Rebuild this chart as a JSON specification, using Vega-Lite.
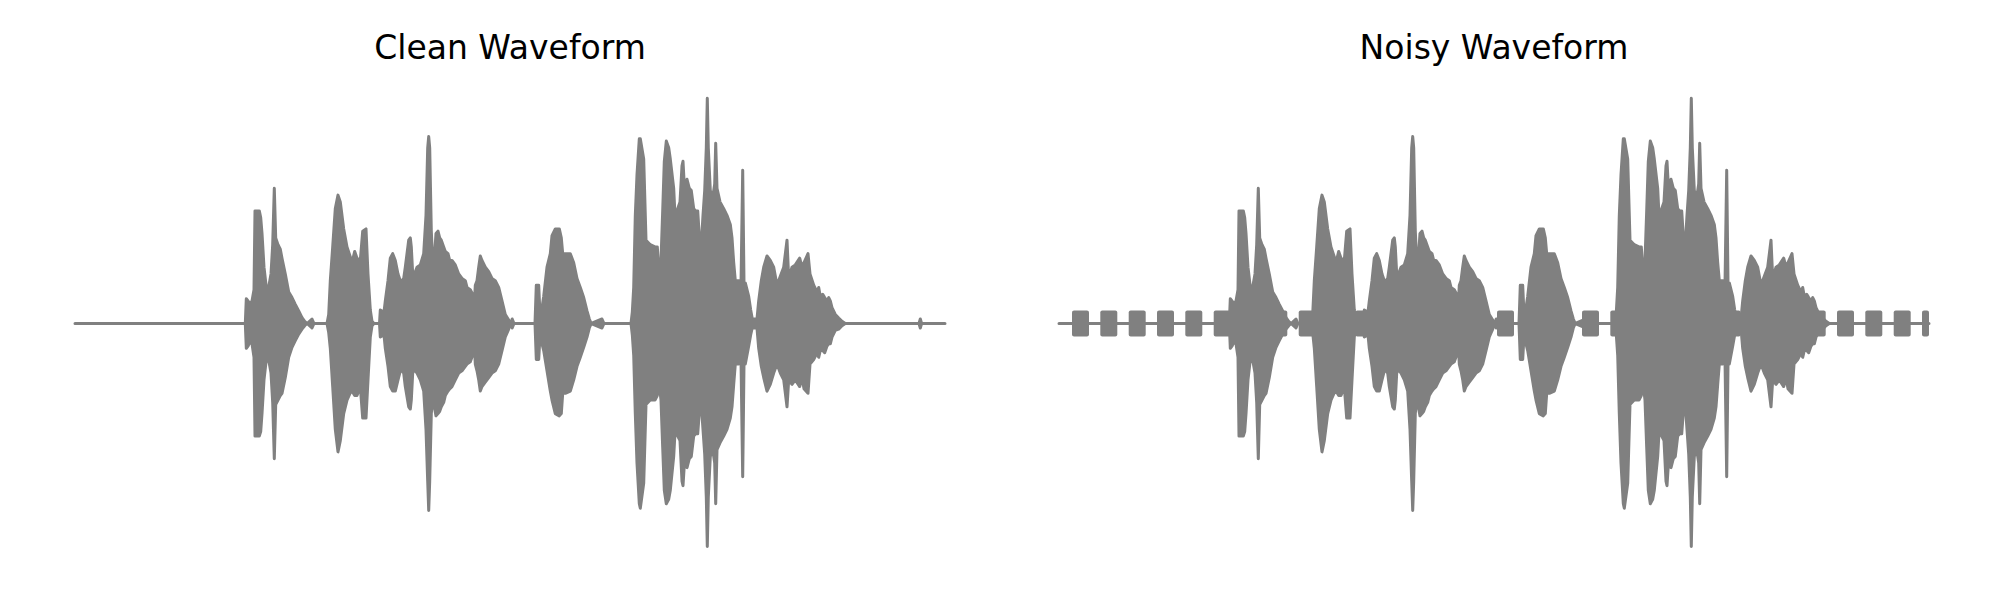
{
"$schema": "https://vega.github.io/schema/vega-lite/v6.json",
"padding": {"left": 73, "top": 32, "right": 0, "bottom": 0},
"spacing": 110,
"config": {"view": {"stroke": null}, "title": {"font": "DejaVu Sans", "fontSize": 33, "fontWeight": "normal", "color": "#000000", "anchor": "middle", "baseline": "alphabetic", "offset": 21.5}},
"datasets": {
"clean": [
{"t":0,"hi":0,"lo":0},{"t":1.703,"hi":0,"lo":0},{"t":1.713,"hi":0.11,"lo":-0.11},{"t":1.73,"hi":0.10,"lo":-0.10},{"t":1.75,"hi":0.09,"lo":-0.08},{"t":1.77,"hi":0.10,"lo":-0.09},{"t":1.79,"hi":0.15,"lo":-0.15},{"t":1.80,"hi":0.50,"lo":-0.50},{"t":1.843,"hi":0.50,"lo":-0.50},{"t":1.857,"hi":0.47,"lo":-0.48},{"t":1.87,"hi":0.40,"lo":-0.40},{"t":1.89,"hi":0.25,"lo":-0.25},{"t":1.913,"hi":0.16,"lo":-0.16},{"t":1.94,"hi":0.17,"lo":-0.17},{"t":1.96,"hi":0.22,"lo":-0.22},{"t":1.977,"hi":0.35,"lo":-0.35},{"t":1.993,"hi":0.60,"lo":-0.60},{"t":2.007,"hi":0.38,"lo":-0.36},{"t":2.03,"hi":0.35,"lo":-0.34},{"t":2.053,"hi":0.33,"lo":-0.32},{"t":2.07,"hi":0.29,"lo":-0.31},{"t":2.103,"hi":0.22,"lo":-0.24},{"t":2.137,"hi":0.14,"lo":-0.15},{"t":2.17,"hi":0.115,"lo":-0.106},{"t":2.203,"hi":0.085,"lo":-0.076},{"t":2.237,"hi":0.056,"lo":-0.047},{"t":2.27,"hi":0.026,"lo":-0.025},{"t":2.297,"hi":0.009,"lo":-0.01},{"t":2.32,"hi":0,"lo":0},{"t":2.37,"hi":0.02,"lo":-0.02},{"t":2.39,"hi":0,"lo":0},
{"t":2.52,"hi":0,"lo":0},{"t":2.537,"hi":0.04,"lo":-0.04},{"t":2.553,"hi":0.19,"lo":-0.11},{"t":2.577,"hi":0.34,"lo":-0.28},{"t":2.603,"hi":0.51,"lo":-0.47},{"t":2.63,"hi":0.57,"lo":-0.57},{"t":2.653,"hi":0.54,"lo":-0.52},{"t":2.687,"hi":0.42,"lo":-0.40},{"t":2.72,"hi":0.34,"lo":-0.34},{"t":2.75,"hi":0.30,"lo":-0.31},{"t":2.77,"hi":0.27,"lo":-0.30},{"t":2.797,"hi":0.32,"lo":-0.32},{"t":2.82,"hi":0.29,"lo":-0.32},{"t":2.853,"hi":0.28,"lo":-0.28},{"t":2.877,"hi":0.41,"lo":-0.42},{"t":2.91,"hi":0.42,"lo":-0.42},{"t":2.93,"hi":0.22,"lo":-0.25},{"t":2.953,"hi":0.06,"lo":-0.06},{"t":2.97,"hi":0.01,"lo":-0.01},{"t":2.99,"hi":0,"lo":0},
{"t":3.045,"hi":0,"lo":0},{"t":3.053,"hi":0.06,"lo":-0.06},{"t":3.09,"hi":0.05,"lo":-0.05},{"t":3.103,"hi":0.10,"lo":-0.11},{"t":3.13,"hi":0.19,"lo":-0.19},{"t":3.153,"hi":0.29,"lo":-0.28},{"t":3.177,"hi":0.31,"lo":-0.30},{"t":3.203,"hi":0.28,"lo":-0.30},{"t":3.23,"hi":0.22,"lo":-0.25},{"t":3.253,"hi":0.19,"lo":-0.21},{"t":3.27,"hi":0.19,"lo":-0.21},{"t":3.287,"hi":0.20,"lo":-0.22},{"t":3.303,"hi":0.25,"lo":-0.28},{"t":3.337,"hi":0.37,"lo":-0.37},{"t":3.353,"hi":0.38,"lo":-0.38},{"t":3.363,"hi":0.34,"lo":-0.34},{"t":3.377,"hi":0.22,"lo":-0.22},{"t":3.387,"hi":0.19,"lo":-0.21},{"t":3.403,"hi":0.23,"lo":-0.21},{"t":3.42,"hi":0.25,"lo":-0.22},{"t":3.453,"hi":0.26,"lo":-0.25},{"t":3.487,"hi":0.31,"lo":-0.30},{"t":3.51,"hi":0.48,"lo":-0.47},{"t":3.527,"hi":0.78,"lo":-0.70},{"t":3.537,"hi":0.83,"lo":-0.83},{"t":3.547,"hi":0.78,"lo":-0.70},{"t":3.563,"hi":0.41,"lo":-0.40},{"t":3.577,"hi":0.28,"lo":-0.33},{"t":3.597,"hi":0.31,"lo":-0.38},{"t":3.61,"hi":0.40,"lo":-0.41},{"t":3.63,"hi":0.41,"lo":-0.40},{"t":3.647,"hi":0.38,"lo":-0.39},{"t":3.663,"hi":0.37,"lo":-0.37},{"t":3.687,"hi":0.34,"lo":-0.35},{"t":3.703,"hi":0.32,"lo":-0.32},{"t":3.73,"hi":0.31,"lo":-0.30},{"t":3.747,"hi":0.28,"lo":-0.29},{"t":3.77,"hi":0.28,"lo":-0.28},{"t":3.803,"hi":0.26,"lo":-0.25},{"t":3.837,"hi":0.22,"lo":-0.22},{"t":3.87,"hi":0.20,"lo":-0.21},{"t":3.903,"hi":0.19,"lo":-0.19},{"t":3.92,"hi":0.16,"lo":-0.18},{"t":3.953,"hi":0.15,"lo":-0.17},{"t":3.977,"hi":0.13,"lo":-0.14},{"t":3.99,"hi":0.06,"lo":-0.06},{"t":4.003,"hi":0.17,"lo":-0.18},{"t":4.02,"hi":0.19,"lo":-0.21},{"t":4.037,"hi":0.25,"lo":-0.25},{"t":4.053,"hi":0.30,"lo":-0.30},{"t":4.07,"hi":0.28,"lo":-0.28},{"t":4.103,"hi":0.25,"lo":-0.26},{"t":4.137,"hi":0.23,"lo":-0.24},{"t":4.17,"hi":0.20,"lo":-0.22},{"t":4.203,"hi":0.19,"lo":-0.21},{"t":4.237,"hi":0.16,"lo":-0.18},{"t":4.27,"hi":0.10,"lo":-0.12},{"t":4.303,"hi":0.04,"lo":-0.06},{"t":4.337,"hi":0.015,"lo":-0.025},{"t":4.355,"hi":0,"lo":0},{"t":4.372,"hi":0.02,"lo":-0.02},{"t":4.39,"hi":0,"lo":0},
{"t":4.60,"hi":0,"lo":0},{"t":4.613,"hi":0.17,"lo":-0.16},{"t":4.637,"hi":0.17,"lo":-0.16},{"t":4.647,"hi":0.07,"lo":-0.08},{"t":4.67,"hi":0.07,"lo":-0.09},{"t":4.687,"hi":0.12,"lo":-0.12},{"t":4.72,"hi":0.25,"lo":-0.21},{"t":4.753,"hi":0.31,"lo":-0.30},{"t":4.77,"hi":0.39,"lo":-0.34},{"t":4.803,"hi":0.42,"lo":-0.40},{"t":4.843,"hi":0.42,"lo":-0.41},{"t":4.863,"hi":0.38,"lo":-0.40},{"t":4.877,"hi":0.31,"lo":-0.31},{"t":4.903,"hi":0.31,"lo":-0.31},{"t":4.953,"hi":0.31,"lo":-0.30},{"t":4.987,"hi":0.27,"lo":-0.25},{"t":5.02,"hi":0.20,"lo":-0.19},{"t":5.053,"hi":0.16,"lo":-0.15},{"t":5.087,"hi":0.115,"lo":-0.106},{"t":5.12,"hi":0.056,"lo":-0.06},{"t":5.143,"hi":0.02,"lo":-0.02},{"t":5.163,"hi":0,"lo":0},{"t":5.27,"hi":0.02,"lo":-0.02},{"t":5.29,"hi":0,"lo":0},
{"t":5.56,"hi":0,"lo":0},{"t":5.573,"hi":0.05,"lo":-0.05},{"t":5.587,"hi":0.16,"lo":-0.14},{"t":5.603,"hi":0.48,"lo":-0.40},{"t":5.62,"hi":0.66,"lo":-0.62},{"t":5.643,"hi":0.82,"lo":-0.80},{"t":5.653,"hi":0.82,"lo":-0.82},{"t":5.687,"hi":0.73,"lo":-0.71},{"t":5.71,"hi":0.37,"lo":-0.36},{"t":5.753,"hi":0.35,"lo":-0.34},{"t":5.80,"hi":0.34,"lo":-0.34},{"t":5.823,"hi":0.34,"lo":-0.32},{"t":5.837,"hi":0.25,"lo":-0.25},{"t":5.86,"hi":0.28,"lo":-0.34},{"t":5.877,"hi":0.50,"lo":-0.55},{"t":5.893,"hi":0.72,"lo":-0.74},{"t":5.913,"hi":0.81,"lo":-0.80},{"t":5.937,"hi":0.78,"lo":-0.78},{"t":5.953,"hi":0.73,"lo":-0.74},{"t":5.987,"hi":0.60,"lo":-0.59},{"t":6.003,"hi":0.45,"lo":-0.46},{"t":6.027,"hi":0.51,"lo":-0.50},{"t":6.05,"hi":0.54,"lo":-0.52},{"t":6.07,"hi":0.70,"lo":-0.70},{"t":6.08,"hi":0.72,"lo":-0.72},{"t":6.097,"hi":0.58,"lo":-0.60},{"t":6.12,"hi":0.64,"lo":-0.64},{"t":6.143,"hi":0.60,"lo":-0.60},{"t":6.163,"hi":0.59,"lo":-0.59},{"t":6.187,"hi":0.51,"lo":-0.50},{"t":6.207,"hi":0.50,"lo":-0.49},{"t":6.227,"hi":0.50,"lo":-0.49},{"t":6.247,"hi":0.36,"lo":-0.37},{"t":6.263,"hi":0.35,"lo":-0.36},{"t":6.28,"hi":0.48,"lo":-0.47},{"t":6.297,"hi":0.59,"lo":-0.58},{"t":6.313,"hi":0.78,"lo":-0.77},{"t":6.323,"hi":1.0,"lo":-0.99},{"t":6.333,"hi":0.78,"lo":-0.77},{"t":6.353,"hi":0.59,"lo":-0.59},{"t":6.377,"hi":0.56,"lo":-0.56},{"t":6.397,"hi":0.62,"lo":-0.62},{"t":6.407,"hi":0.80,"lo":-0.80},{"t":6.42,"hi":0.60,"lo":-0.56},{"t":6.45,"hi":0.54,"lo":-0.53},{"t":6.487,"hi":0.51,"lo":-0.50},{"t":6.52,"hi":0.48,"lo":-0.47},{"t":6.553,"hi":0.44,"lo":-0.42},{"t":6.57,"hi":0.38,"lo":-0.37},{"t":6.587,"hi":0.27,"lo":-0.27},{"t":6.603,"hi":0.19,"lo":-0.18},{"t":6.637,"hi":0.19,"lo":-0.18},{"t":6.66,"hi":0.17,"lo":-0.16},{"t":6.677,"hi":0.68,"lo":-0.68},{"t":6.69,"hi":0.18,"lo":-0.18},{"t":6.703,"hi":0.18,"lo":-0.18},{"t":6.737,"hi":0.12,"lo":-0.10},{"t":6.757,"hi":0.06,"lo":-0.05},{"t":6.777,"hi":0.01,"lo":-0.01},{"t":6.79,"hi":0.02,"lo":-0.02},{"t":6.82,"hi":0.02,"lo":-0.02},
{"t":6.837,"hi":0.10,"lo":-0.11},{"t":6.863,"hi":0.19,"lo":-0.19},{"t":6.887,"hi":0.25,"lo":-0.24},{"t":6.92,"hi":0.30,"lo":-0.30},{"t":6.953,"hi":0.28,"lo":-0.27},{"t":6.987,"hi":0.25,"lo":-0.22},{"t":7.02,"hi":0.17,"lo":-0.18},{"t":7.053,"hi":0.21,"lo":-0.22},{"t":7.087,"hi":0.25,"lo":-0.25},{"t":7.12,"hi":0.37,"lo":-0.37},{"t":7.137,"hi":0.20,"lo":-0.25},{"t":7.17,"hi":0.25,"lo":-0.27},{"t":7.203,"hi":0.26,"lo":-0.25},{"t":7.247,"hi":0.29,"lo":-0.28},{"t":7.27,"hi":0.25,"lo":-0.24},{"t":7.29,"hi":0.27,"lo":-0.29},{"t":7.33,"hi":0.31,"lo":-0.31},{"t":7.35,"hi":0.22,"lo":-0.18},{"t":7.387,"hi":0.17,"lo":-0.16},{"t":7.42,"hi":0.14,"lo":-0.13},{"t":7.437,"hi":0.16,"lo":-0.15},{"t":7.453,"hi":0.12,"lo":-0.12},{"t":7.477,"hi":0.13,"lo":-0.12},{"t":7.497,"hi":0.115,"lo":-0.13},{"t":7.52,"hi":0.10,"lo":-0.10},{"t":7.537,"hi":0.115,"lo":-0.09},{"t":7.553,"hi":0.10,"lo":-0.09},{"t":7.57,"hi":0.07,"lo":-0.06},{"t":7.603,"hi":0.04,"lo":-0.03},{"t":7.637,"hi":0.024,"lo":-0.025},{"t":7.67,"hi":0.01,"lo":-0.01},{"t":7.703,"hi":0,"lo":0},{"t":8.44,"hi":0,"lo":0},{"t":8.453,"hi":0.02,"lo":-0.02},{"t":8.466,"hi":0,"lo":0},{"t":8.70,"hi":0,"lo":0}
],
"noise": [
{"t0":0.13,"t1":0.30,"hi":0.058,"lo":-0.058},{"t0":0.413,"t1":0.583,"hi":0.058,"lo":-0.058},{"t0":0.697,"t1":0.867,"hi":0.058,"lo":-0.058},{"t0":0.98,"t1":1.15,"hi":0.058,"lo":-0.058},{"t0":1.263,"t1":1.433,"hi":0.058,"lo":-0.058},{"t0":1.547,"t1":1.717,"hi":0.058,"lo":-0.058},{"t0":1.83,"t1":2.0,"hi":0.058,"lo":-0.058},{"t0":2.113,"t1":2.283,"hi":0.058,"lo":-0.058},{"t0":2.397,"t1":2.567,"hi":0.058,"lo":-0.058},{"t0":2.68,"t1":2.85,"hi":0.058,"lo":-0.058},{"t0":2.963,"t1":3.133,"hi":0.058,"lo":-0.058},{"t0":3.247,"t1":3.417,"hi":0.058,"lo":-0.058},{"t0":3.53,"t1":3.70,"hi":0.058,"lo":-0.058},{"t0":3.813,"t1":3.983,"hi":0.058,"lo":-0.058},{"t0":4.097,"t1":4.267,"hi":0.058,"lo":-0.058},{"t0":4.38,"t1":4.55,"hi":0.058,"lo":-0.058},{"t0":4.663,"t1":4.833,"hi":0.058,"lo":-0.058},{"t0":4.947,"t1":5.117,"hi":0.058,"lo":-0.058},{"t0":5.23,"t1":5.40,"hi":0.058,"lo":-0.058},{"t0":5.513,"t1":5.683,"hi":0.058,"lo":-0.058},{"t0":5.797,"t1":5.967,"hi":0.058,"lo":-0.058},{"t0":6.08,"t1":6.25,"hi":0.058,"lo":-0.058},{"t0":6.363,"t1":6.533,"hi":0.058,"lo":-0.058},{"t0":6.647,"t1":6.817,"hi":0.058,"lo":-0.058},{"t0":6.93,"t1":7.10,"hi":0.058,"lo":-0.058},{"t0":7.213,"t1":7.383,"hi":0.058,"lo":-0.058},{"t0":7.497,"t1":7.667,"hi":0.058,"lo":-0.058},{"t0":7.78,"t1":7.95,"hi":0.058,"lo":-0.058},{"t0":8.063,"t1":8.233,"hi":0.058,"lo":-0.058},{"t0":8.347,"t1":8.517,"hi":0.058,"lo":-0.058},{"t0":8.63,"t1":8.70,"hi":0.058,"lo":-0.058}
]
},
"hconcat": [
{
"title": "Clean Waveform",
"width": 870, "height": 473,
"data": {"name": "clean"},
"mark": {"type": "area", "color": "#808080", "stroke": "#808080", "strokeWidth": 3, "strokeJoin": "round", "strokeCap": "round", "interpolate": "linear"},
"encoding": {
"x": {"field": "t", "type": "quantitative", "scale": {"domain": [0, 8.7]}, "axis": null},
"y": {"field": "hi", "type": "quantitative", "scale": {"domain": [-1.05, 1.05]}, "axis": null},
"y2": {"field": "lo"}
}
},
{
"title": "Noisy Waveform",
"width": 870, "height": 473,
"layer": [
{
"data": {"name": "noise"},
"mark": {"type": "rect", "color": "#808080", "cornerRadius": 2},
"encoding": {
"x": {"field": "t0", "type": "quantitative", "scale": {"domain": [0, 8.7]}, "axis": null},
"x2": {"field": "t1"},
"y": {"field": "hi", "type": "quantitative", "scale": {"domain": [-1.05, 1.05]}, "axis": null},
"y2": {"field": "lo"}
}
},
{
"data": {"name": "clean"},
"mark": {"type": "area", "color": "#808080", "stroke": "#808080", "strokeWidth": 3, "strokeJoin": "round", "strokeCap": "round", "interpolate": "linear"},
"encoding": {
"x": {"field": "t", "type": "quantitative", "scale": {"domain": [0, 8.7]}, "axis": null},
"y": {"field": "hi", "type": "quantitative", "scale": {"domain": [-1.05, 1.05]}, "axis": null},
"y2": {"field": "lo"}
}
}
]
}
]
}
